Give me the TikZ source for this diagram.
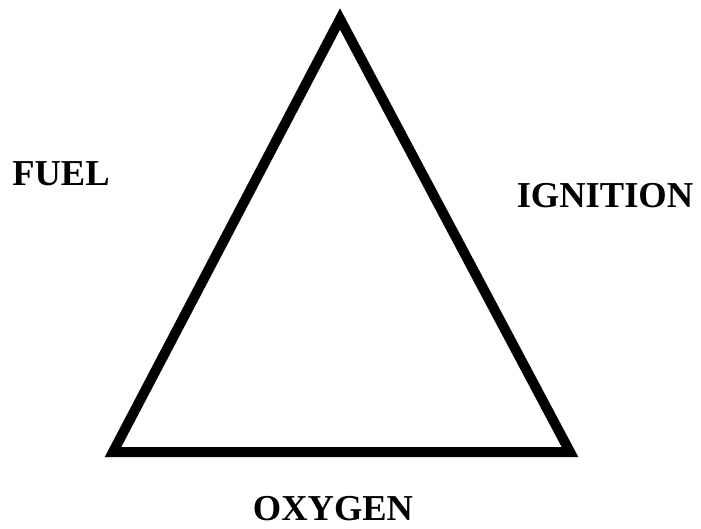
\documentclass[tikz,border=0pt]{standalone}
\usepackage{fontspec}
\setmainfont{Liberation Serif}
\begin{document}
\begin{tikzpicture}[x=1pt,y=-1pt,
  lbl/.style={font=\bfseries\fontsize{36.5}{40}\selectfont, inner sep=0pt, anchor=base},
  edge/.style={line width=10pt, line join=miter, draw=black}]
\useasboundingbox[fill=white] (0,0) rectangle (701,528);
\coordinate (A) at (340,19);
\coordinate (B) at (113,452);
\coordinate (C) at (570,452);
\draw[edge] (A) -- (B) -- (C) -- cycle;
\node[lbl] (fuel) at (61,185) {FUEL};
\node[lbl] (ign) at (605,207) {IGNITION};
\node[lbl] (oxy) at (333,520) {OXYGEN};
\end{tikzpicture}
\end{document}
